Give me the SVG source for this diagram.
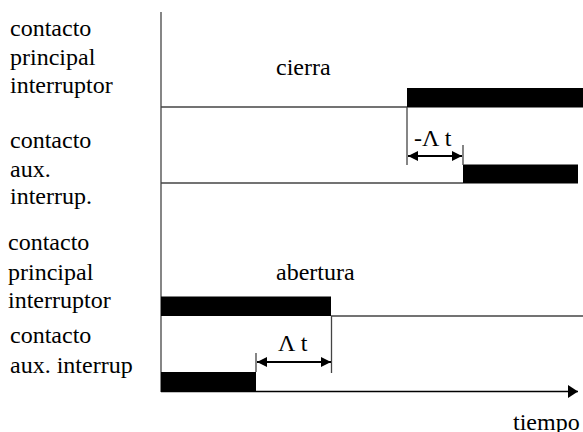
<svg xmlns="http://www.w3.org/2000/svg" width="583" height="432" viewBox="0 0 583 432">
  <defs>
    <marker id="ah" viewBox="0 0 10 10" refX="10" refY="5" markerWidth="10" markerHeight="10" markerUnits="userSpaceOnUse" orient="auto-start-reverse">
      <path d="M0,0 L10,5 L0,10 Z" fill="#000"/>
    </marker>
    <marker id="axh" viewBox="0 0 10 13" refX="10" refY="6.5" markerWidth="10" markerHeight="13" markerUnits="userSpaceOnUse" orient="auto">
      <path d="M0,0 L10,6.5 L0,13 Z" fill="#000"/>
    </marker>
  </defs>

  <!-- row labels -->
  <g id="label-principal-1">
    <text x="10" y="36" font-family="Liberation Serif" font-size="24">contacto</text>
    <text x="10" y="65" font-family="Liberation Serif" font-size="24">principal</text>
    <text x="10" y="93" font-family="Liberation Serif" font-size="24">interruptor</text>
  </g>
  <g id="label-aux-1">
    <text x="10" y="148" font-family="Liberation Serif" font-size="24">contacto</text>
    <text x="10" y="177" font-family="Liberation Serif" font-size="24">aux.</text>
    <text x="10" y="204" font-family="Liberation Serif" font-size="24">interrup.</text>
  </g>
  <g id="label-principal-2">
    <text x="8" y="250" font-family="Liberation Serif" font-size="24">contacto</text>
    <text x="8" y="280" font-family="Liberation Serif" font-size="24">principal</text>
    <text x="8" y="308" font-family="Liberation Serif" font-size="24">interruptor</text>
  </g>
  <g id="label-aux-2">
    <text x="10" y="343" font-family="Liberation Serif" font-size="24">contacto</text>
    <text x="10" y="373" font-family="Liberation Serif" font-size="24">aux. interrup</text>
  </g>

  <!-- axes -->
  <g id="axes">
    <line x1="161" y1="12" x2="161" y2="392" stroke="#444" stroke-width="1.3"/>
    <line x1="161" y1="391.5" x2="578" y2="391.5" stroke="#000" stroke-width="1.5" marker-end="url(#axh)"/>
    <text x="513" y="430" font-family="Liberation Serif" font-size="24">tiempo</text>
  </g>

  <!-- closing: main contact -->
  <g id="signal-principal-cierra">
    <text x="276" y="75" font-family="Liberation Serif" font-size="24">cierra</text>
    <line x1="161" y1="107" x2="407" y2="107" stroke="#444" stroke-width="1.3"/>
    <rect x="407" y="88" width="176" height="19.5" fill="#000"/>
  </g>

  <!-- closing: auxiliary contact -->
  <g id="signal-aux-cierra">
    <line x1="161" y1="183" x2="463" y2="183" stroke="#444" stroke-width="1.3"/>
    <rect x="463" y="164.5" width="115" height="19" fill="#000"/>
  </g>

  <!-- opening: main contact -->
  <g id="signal-principal-abertura">
    <text x="276" y="280" font-family="Liberation Serif" font-size="24">abertura</text>
    <rect x="161" y="296.5" width="170" height="19.5" fill="#000"/>
    <line x1="331" y1="316" x2="583" y2="316" stroke="#444" stroke-width="1.3"/>
  </g>

  <!-- opening: auxiliary contact -->
  <g id="signal-aux-abertura">
    <rect x="161" y="372" width="95" height="19.5" fill="#000"/>
  </g>

  <!-- time offset dimensions -->
  <g id="connectors">
    <line x1="407" y1="107" x2="407" y2="165" stroke="#444" stroke-width="1.3"/>
    <line x1="463" y1="145" x2="463" y2="165" stroke="#444" stroke-width="1.3"/>
    <line x1="408" y1="156" x2="462" y2="156" stroke="#000" stroke-width="2" marker-start="url(#ah)" marker-end="url(#ah)"/>
    <text x="414" y="146" font-family="Liberation Serif" font-size="24">-Λ t</text>

    <line x1="331.5" y1="316" x2="331.5" y2="373" stroke="#444" stroke-width="1.3"/>
    <line x1="256" y1="353" x2="256" y2="372" stroke="#444" stroke-width="1.3"/>
    <line x1="257" y1="362" x2="331" y2="362" stroke="#000" stroke-width="2" marker-start="url(#ah)" marker-end="url(#ah)"/>
    <text x="278" y="351" font-family="Liberation Serif" font-size="24">Λ t</text>
  </g>
</svg>
